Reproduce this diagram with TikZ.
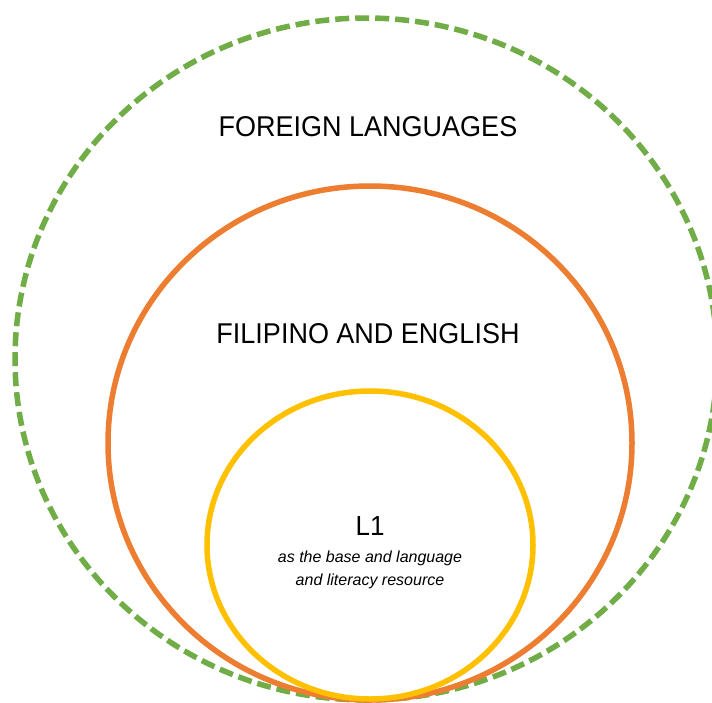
\documentclass[tikz,border=0pt]{standalone}
\usepackage{fontspec}
\setmainfont{Liberation Sans}
\definecolor{ogreen}{HTML}{70AD47}
\definecolor{oorange}{HTML}{ED7D31}
\definecolor{oyellow}{HTML}{FFC000}
\tikzset{
  ring/.style={line width=5.5pt},
  bigtxt/.style={font=\fontsize{27}{32}\selectfont, inner sep=0pt, anchor=center, yscale=1.06},
  smalltxt/.style={font=\fontsize{16}{23}\selectfont\itshape, align=center, inner sep=0pt, anchor=north}
}
\begin{document}
\begin{tikzpicture}[x=1pt,y=-1pt]
\useasboundingbox (0,0) rectangle (712,702);
\clip (0,0) rectangle (712,702);
\fill[white] (0,0) rectangle (712,702);
\draw[ring, ogreen, dash pattern=on 14pt off 6pt] (366,359) ellipse [x radius=351, y radius=341];
\draw[ring, oorange] (370,443) ellipse [x radius=262, y radius=257];
\draw[ring, oyellow] (370,545) ellipse [x radius=163, y radius=154];
\node[bigtxt] (foreign) at (368,127) {FOREIGN LANGUAGES};
\node[bigtxt] (filipino) at (368,334) {FILIPINO AND ENGLISH};
\node[font=\fontsize{26}{30}\selectfont, inner sep=0pt, yscale=1.06] (l1) at (370,526) {L1};
\node[smalltxt] (desc) at (370,551) {as the base and language\\and literacy resource};
\end{tikzpicture}
\end{document}
